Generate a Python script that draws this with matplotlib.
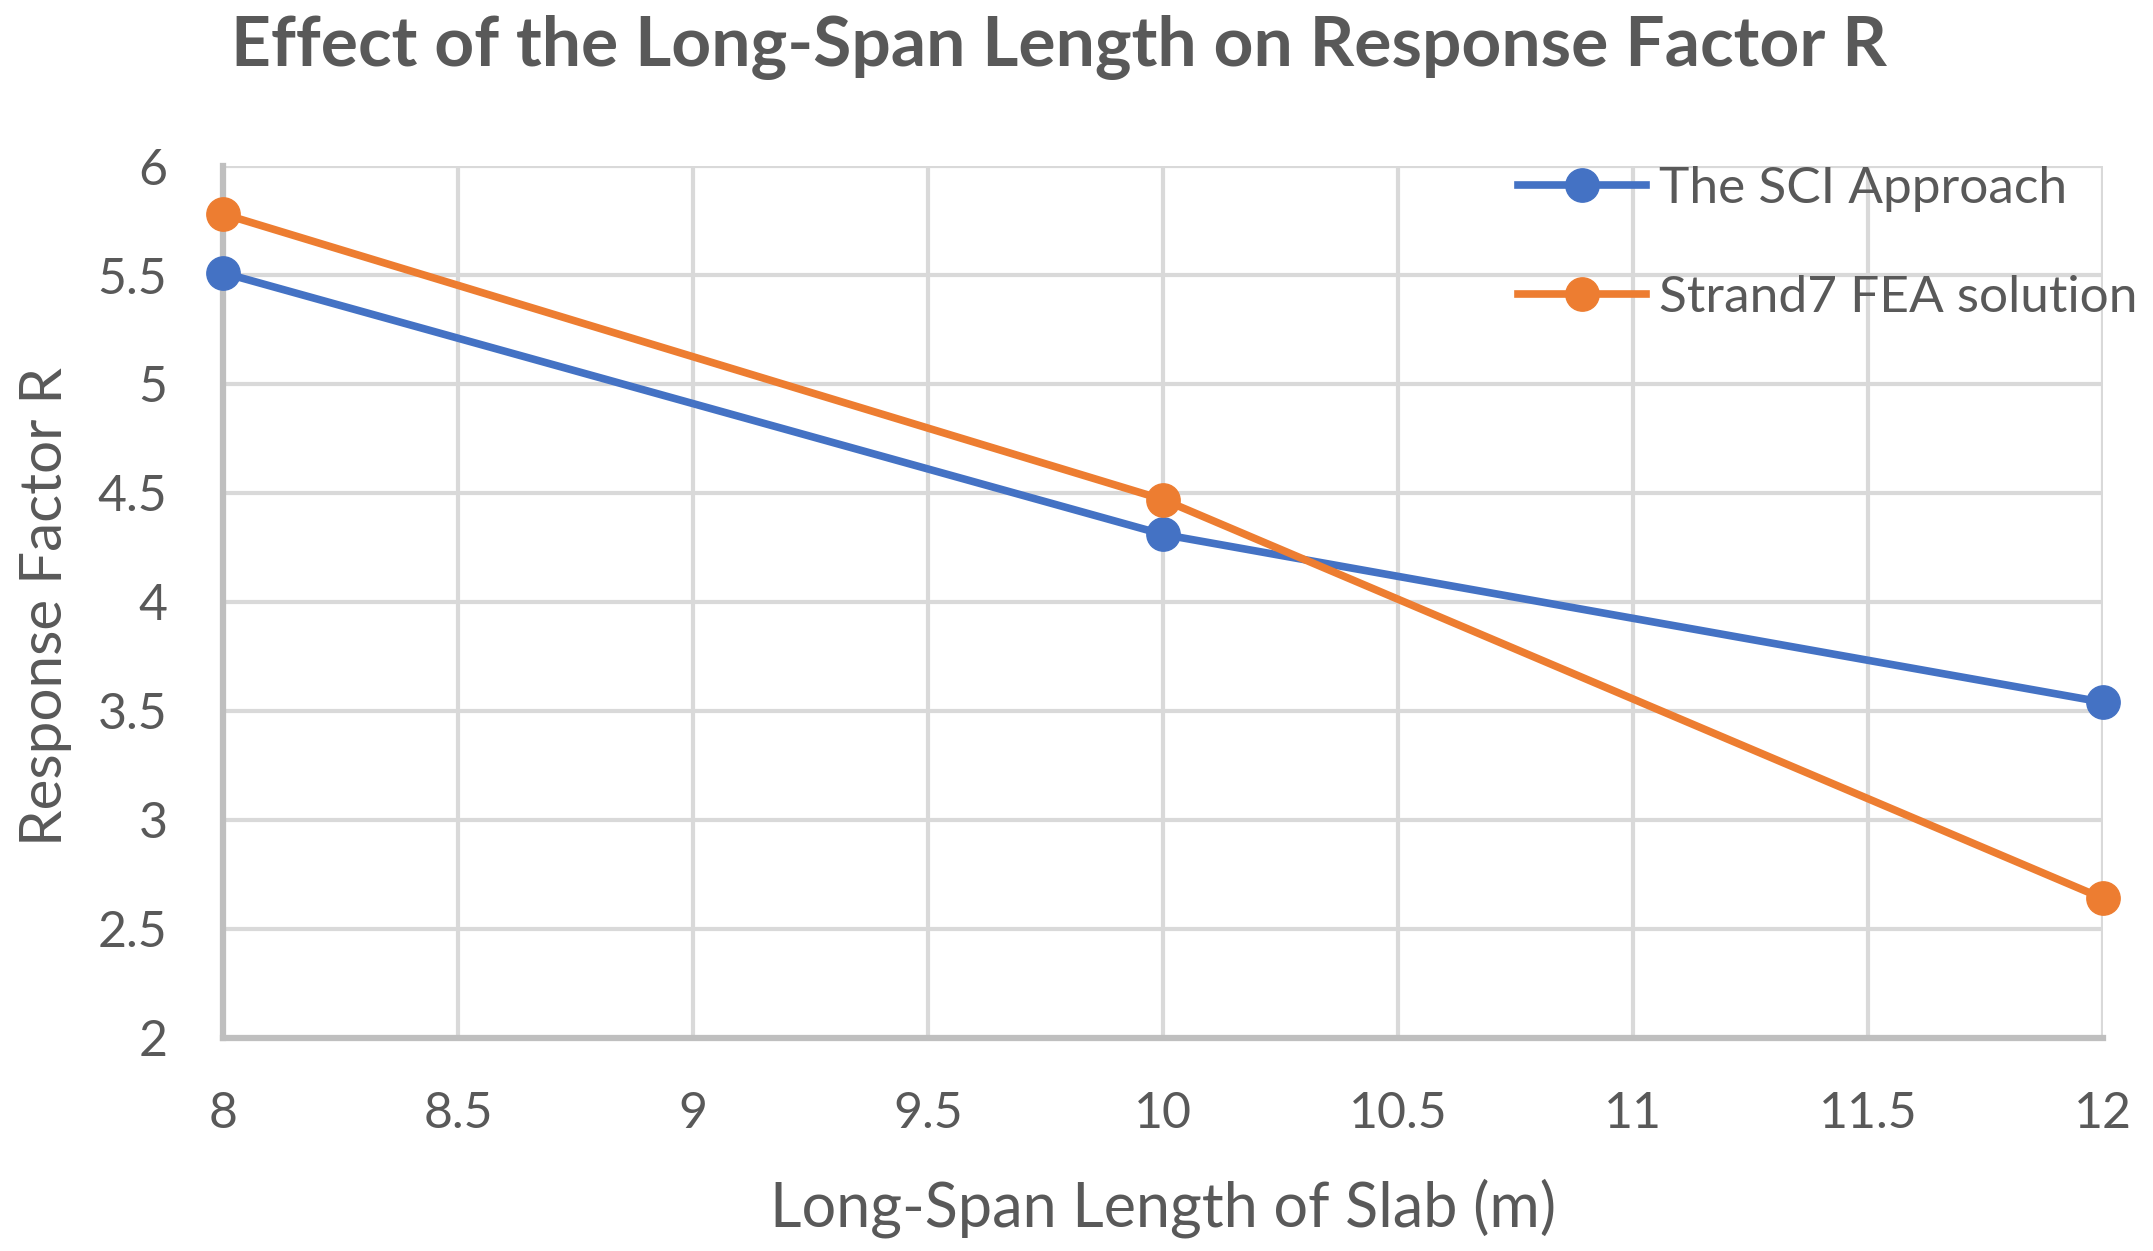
import matplotlib
matplotlib.use("Agg")
import matplotlib.pyplot as plt

# data
span = [8, 10, 12]
sci_approach = [5.51, 4.31, 3.54]
strand7_fea = [5.78, 4.47, 2.64]

x_ticks = [8, 8.5, 9, 9.5, 10, 10.5, 11, 11.5, 12]
y_ticks = [2, 2.5, 3, 3.5, 4, 4.5, 5, 5.5, 6]

plt.rcParams['font.family'] = ['Lato', 'DejaVu Sans']
txt = "#595959"

fig = plt.figure(figsize=(21.53, 12.51), dpi=100)
ax = fig.add_axes([0.1036, 0.1703, 0.9768 - 0.1036, 0.8673 - 0.1703])

ax.plot(span, sci_approach, color="#4472C4", lw=5.5, marker="o", ms=24,
        label="The SCI Approach", clip_on=False, zorder=3)
ax.plot(span, strand7_fea, color="#ED7D31", lw=5.5, marker="o", ms=24,
        label="Strand7 FEA solution", clip_on=False, zorder=3)

ax.set_xlim(8, 12)
ax.set_ylim(2, 6)
ax.set_xticks(x_ticks)
ax.set_yticks(y_ticks)
ax.set_xticklabels([f"{v:g}" for v in x_ticks])
ax.set_yticklabels([f"{v:g}" for v in y_ticks])
ax.tick_params(length=0, labelsize=36, labelcolor=txt)
ax.tick_params(axis="x", pad=38)
ax.tick_params(axis="y", pad=40)

ax.grid(True, color="#D9D9D9", lw=3)
ax.set_axisbelow(True)
for s in ["top", "right"]:
    ax.spines[s].set_visible(False)
for s in ["left", "bottom"]:
    ax.spines[s].set_color("#BFBFBF")
    ax.spines[s].set_linewidth(4.5)

fig.text(0.492, 0.962, "Effect of the Long-Span Length on Response Factor R",
         ha="center", va="center", fontsize=50, fontweight="bold", color=txt)
fig.text(0.021, 0.515, "Response Factor R", rotation=90, ha="center",
         va="center", fontsize=42, color=txt)
fig.text(0.54, 0.034, "Long-Span Length of Slab (m)", ha="center",
         va="center", fontsize=44, color=txt)

leg = ax.legend(loc="upper left", bbox_to_anchor=(0.705, 0.867),
                bbox_transform=fig.transFigure, frameon=False, fontsize=37,
                borderpad=0, borderaxespad=0, handlelength=2.5,
                handletextpad=0.25, labelspacing=1.21)
for t in leg.get_texts():
    t.set_color(txt)

fig.savefig("out.png", dpi=100)
